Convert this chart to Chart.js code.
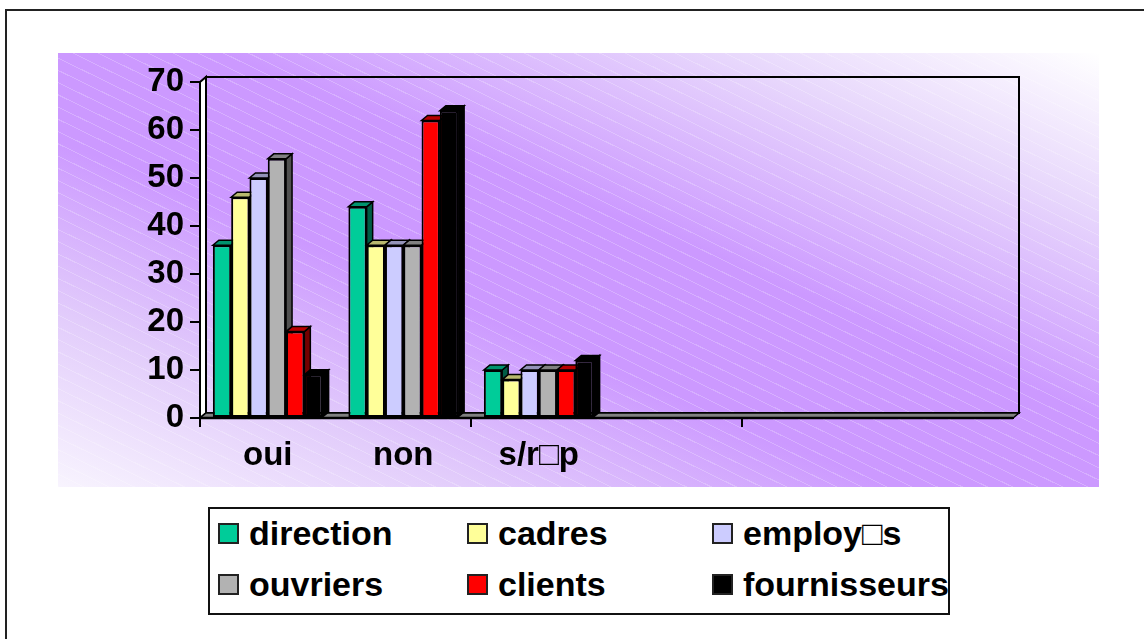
<!DOCTYPE html>
<html>
<head>
<meta charset="utf-8">
<script src="https://cdn.jsdelivr.net/npm/chart.js@4"></script>
<style>
  body { margin: 0; background: #fff; width: 1144px; height: 639px; overflow: hidden; position: relative; font-family: 'Liberation Sans', Arial, sans-serif; }
  #frame { position: absolute; left: 5px; top: 9px; width: 1300px; height: 800px; border: 2px solid #222; }
  #plotBg {
    position: absolute; left: 58px; top: 53px; width: 1041px; height: 434px;
    background:
      repeating-linear-gradient(26deg, rgba(255,255,255,0.22) 0px, rgba(255,255,255,0.22) 1px, rgba(255,255,255,0) 1px, rgba(255,255,255,0) 11px),
      linear-gradient(to bottom left, #ffffff 0%, #e8d8fc 18%, #cc99ff 42%, #cc99ff 60%, #e2ccfb 80%, #f8f4fe 100%);
  }
  #chartCanvas { position: absolute; left: 0; top: 0; }
  #legend { position: absolute; left: 208px; top: 507px; width: 742px; height: 108px; box-sizing: border-box; border: 2px solid #111; background: #fff; }
  .item { position: absolute; display: flex; align-items: center; height: 34px; font-weight: bold; font-size: 34px; line-height: 34px; color: #000; white-space: nowrap; }
  .swatch { width: 21px; height: 21px; box-sizing: border-box; border: 2px solid #222; margin-right: 10px; }
</style>
</head>
<body>
<div id="frame"></div>
<div id="plotBg"></div>
<canvas id="chartCanvas" width="1144" height="639"></canvas>
<div id="legend"></div>
<script>
// categories (last three slots are empty, as in the original sheet)
const categories = ['oui', 'non', 's/r\u25A1p', '', '', ''];

// series values
const direction = [36, 44, 10];
const cadres = [46, 36, 8];
const employes = [50, 36, 10];
const ouvriers = [54, 36, 10];
const clients = [18, 62, 10];
const fournisseurs = [9, 64, 12];

const seriesNames = ['direction', 'cadres', 'employ\u25A1s', 'ouvriers', 'clients', 'fournisseurs'];
const seriesColors = ['#00CC99', '#FFFF99', '#CCCCFF', '#B2B2B2', '#FF0000', '#000000'];

// y axis ticks
const yMin = 0;
const yMax = 70;
const yStep = 10;

const FONT = "'Liberation Sans', Arial, sans-serif";
const DX = 6, DY = 5; // 3D depth offset

const seriesData = [direction, cadres, employes, ouvriers, clients, fournisseurs];

function shade(hex, f) {
    const n = parseInt(hex.slice(1), 16);
    const r = Math.round(((n >> 16) & 255) * f);
    const g = Math.round(((n >> 8) & 255) * f);
    const b = Math.round((n & 255) * f);
    return `rgb(${r}, ${g}, ${b})`;
}

function poly(ctx, pts, fill, stroke, lw) {
    ctx.beginPath();
    ctx.moveTo(pts[0][0], pts[0][1]);
    for (let i = 1; i < pts.length; i++) ctx.lineTo(pts[i][0], pts[i][1]);
    ctx.closePath();
    if (fill) { ctx.fillStyle = fill; ctx.fill(); }
    if (stroke) { ctx.strokeStyle = stroke; ctx.lineWidth = lw || 1.5; ctx.stroke(); }
}

// walls, floor and the top/side faces of the bars
const box3d = {
    id: 'box3d',
    beforeDatasetsDraw(chart) {
        const { ctx, chartArea: a } = chart;
        ctx.save();
        ctx.lineJoin = 'miter';
        // back wall outline
        ctx.strokeStyle = '#000';
        ctx.lineWidth = 2;
        ctx.strokeRect(a.left + DX, a.top - DY, a.right - a.left, a.bottom - a.top);
        // left wall
        poly(ctx, [[a.left, a.bottom], [a.left, a.top], [a.left + DX, a.top - DY], [a.left + DX, a.bottom - DY]], '#fff', '#000', 2);
        // floor
        poly(ctx, [[a.left, a.bottom], [a.right, a.bottom], [a.right + DX, a.bottom - DY], [a.left + DX, a.bottom - DY]], '#808080', '#000', 1.5);
        ctx.beginPath();
        ctx.moveTo(a.left, a.bottom);
        ctx.lineTo(a.right, a.bottom);
        ctx.lineWidth = 2.5;
        ctx.stroke();
        ctx.restore();
    },
    // chart.js paints datasets last-to-first; paint them first-to-last ourselves
    beforeDatasetDraw() {
        return false;
    },
    afterDatasetsDraw(chart) {
        const { ctx } = chart;
        seriesData.forEach((values, i) => {
            const meta = chart.getDatasetMeta(i);
            const color = seriesColors[i];
            meta.data.forEach((el, j) => {
                if (values[j] == null) return;
                const { x, y, base, width } = el.getProps(['x', 'y', 'base', 'width'], true);
                const l = x - width / 2, r = x + width / 2;
                ctx.save();
                ctx.lineJoin = 'miter';
                poly(ctx, [[r, y], [r, base], [r + DX, base - DY], [r + DX, y - DY]], shade(color, 0.45), '#000', 1.5);
                poly(ctx, [[l, y], [r, y], [r + DX, y - DY], [l + DX, y - DY]], shade(color, 0.72), '#000', 1.5);
                ctx.restore();
                el.draw(ctx, chart.chartArea);
            });
        });
    }
};

const ctx = document.getElementById('chartCanvas').getContext('2d');
new Chart(ctx, {
    type: 'bar',
    data: {
        labels: categories,
        datasets: seriesData.map((d, i) => ({
            label: seriesNames[i],
            data: d,
            backgroundColor: seriesColors[i],
            borderColor: '#000',
            borderWidth: 2,
            borderSkipped: false,
            categoryPercentage: 0.81,
            barPercentage: 1.0
        }))
    },
    options: {
        responsive: false,
        animation: false,
        devicePixelRatio: 1,
        layout: { padding: { left: 0, top: 82, right: 131, bottom: 0 } },
        plugins: {
            legend: { display: false },
            tooltip: { enabled: false }
        },
        scales: {
            x: {
                type: 'category',
                offset: true,
                afterFit: s => { s.height = 221; },
                grid: {
                    offset: true,
                    drawOnChartArea: false,
                    drawTicks: true,
                    tickLength: 9,
                    lineWidth: 2,
                    color: c => (c.index % 2 === 0 ? '#000' : 'rgba(0,0,0,0)')
                },
                border: { display: true, color: '#000', width: 2 },
                ticks: {
                    autoSkip: false,
                    maxRotation: 0,
                    padding: 9,
                    color: '#000',
                    font: { family: FONT, size: 33, weight: 'bold' }
                }
            },
            y: {
                min: yMin,
                max: yMax,
                afterFit: s => { s.width = 200; },
                grid: {
                    drawOnChartArea: false,
                    drawTicks: true,
                    tickLength: 10,
                    lineWidth: 2,
                    color: '#000'
                },
                border: { display: true, color: '#000', width: 2 },
                ticks: {
                    stepSize: yStep,
                    padding: 6,
                    color: '#000',
                    font: { family: FONT, size: 33, weight: 'bold' }
                }
            }
        }
    },
    plugins: [box3d]
});

// legend: 3 columns x 2 rows, as in the original
const legend = document.getElementById('legend');
const colX = [8, 257, 502];
const rowY = [7, 58];
seriesNames.forEach((name, i) => {
    const item = document.createElement('div');
    item.className = 'item';
    item.style.left = colX[i % 3] + 'px';
    item.style.top = rowY[Math.floor(i / 3)] + 'px';
    const sw = document.createElement('span');
    sw.className = 'swatch';
    sw.style.background = seriesColors[i];
    const tx = document.createElement('span');
    tx.textContent = name;
    item.appendChild(sw);
    item.appendChild(tx);
    legend.appendChild(item);
});
</script>
</body>
</html>
